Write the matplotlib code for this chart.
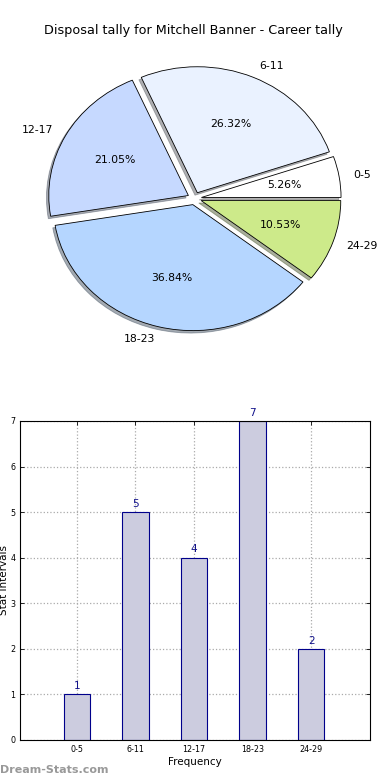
import matplotlib
matplotlib.use("Agg")
import matplotlib.pyplot as plt

# data
intervals = ["0-5", "6-11", "12-17", "18-23", "24-29"]
counts = [1, 5, 4, 7, 2]
pie_colors = ["#ffffff", "#eaf2ff", "#c6d9ff", "#b5d6ff", "#cdea8a"]
yticks = [0, 1, 2, 3, 4, 5, 6, 7]

fig = plt.figure(figsize=(3.9, 7.8), dpi=100)

# pie chart
ax1 = fig.add_axes([0.0513, 0.5436, 0.895, 0.4038])
wedges, texts, autotexts = ax1.pie(
    counts, labels=intervals, colors=pie_colors, autopct="%.2f%%",
    explode=[0.05] * len(counts),
    shadow={"ox": -0.012, "oy": -0.014, "shade": 0.6}, startangle=0,
    wedgeprops=dict(edgecolor="black", linewidth=0.6),
    textprops=dict(fontsize=7.8))
ax1.set_aspect("auto")
ax1.set_xlim(-1.25, 1.25)
ax1.set_ylim(-1.25, 1.25)
fig.text(0.495, 0.961, "Disposal tally for Mitchell Banner - Career tally",
         ha="center", va="center", fontsize=9.2)

# bar chart
ax2 = fig.add_axes([0.0513, 0.0513, 0.897, 0.409])
x = range(len(intervals))
bars = ax2.bar(x, counts, width=0.45, color="#ccccdf", edgecolor="#00008b",
               linewidth=0.8, zorder=2)
for xi, c in zip(x, counts):
    ax2.text(xi, c + 0.07, str(c), ha="center", va="bottom",
             color="#10108a", fontsize=7.5)
ax2.set_xlim(-0.97, 5.0)
ax2.set_ylim(0, 7)
ax2.set_xticks(list(x))
ax2.set_xticklabels(intervals, fontsize=5.8)
ax2.set_yticks(yticks)
ax2.tick_params(axis="y", labelsize=5.8)
ax2.tick_params(direction="in", top=True, right=True, length=3, width=0.6)
ax2.grid(True, linestyle=":", color="#aaaaaa", linewidth=0.9, zorder=0)
ax2.set_xlabel("Frequency", fontsize=7.5, labelpad=2)
ax2.set_ylabel("Stat Intervals", fontsize=7.5, labelpad=1)
for s in ax2.spines.values():
    s.set_linewidth(0.8)

fig.text(0.0, 0.013, "Dream-Stats.com", color="#999999", fontsize=8,
         fontweight="bold", ha="left", va="center")

fig.savefig("out.png", dpi=100)
